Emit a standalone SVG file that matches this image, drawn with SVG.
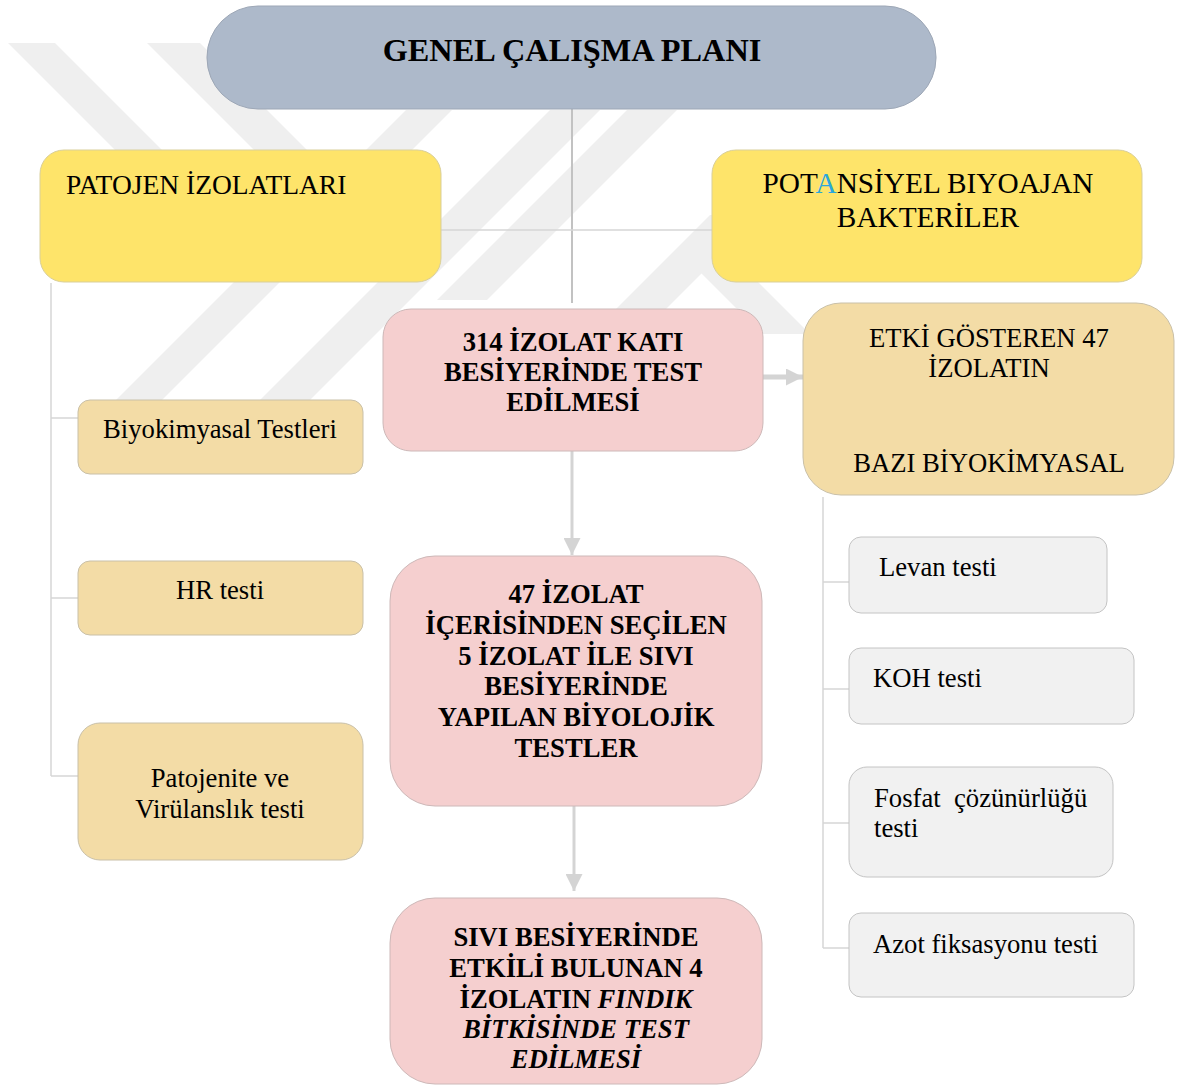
<svg xmlns="http://www.w3.org/2000/svg" width="1186" height="1085" viewBox="0 0 1186 1085">
  <style>
    .t { font-family: "Liberation Serif", "Times New Roman", serif; font-size: 26.67px; fill: #000; }
    .b { font-weight: bold; }
    .c { text-anchor: middle; }
    .pre { white-space: pre; }
    .wm { fill: #efefef; }
    .ln { stroke: #d6d6d6; stroke-width: 1.5; fill: none; }
    .ar { stroke: #d4d4d4; fill: none; }
    .yel { fill: #fee46a; stroke: #d9cf9a; stroke-width: 1; }
    .tan { fill: #f3dca6; stroke: #c9c0a8; stroke-width: 1; }
    .pnk { fill: #f5cfcf; stroke: #cdb8b8; stroke-width: 1; }
    .gry { fill: #f1f1f1; stroke: #c4c4c4; stroke-width: 1; }
  </style>
  <defs>
    <marker id="ah" viewBox="0 0 17 17" markerWidth="17" markerHeight="17" markerUnits="userSpaceOnUse" refX="17" refY="8.5" orient="auto">
      <path d="M0,0 L17,8.5 L0,17 z" fill="#d4d4d4"/>
    </marker>
  </defs>
  <rect width="1186" height="1085" fill="#ffffff"/>

  <g id="watermark">
    <polygon class="wm" points="8,43 55,43 162,150 115,150"/>
    <polygon class="wm" points="147,43 200,43 307,150 254,150"/>
    <polygon class="wm" points="116,400 162,400 452,110 406,110"/>
    <polygon class="wm" points="260,400 310,400 600,110 550,110"/>
    <polygon class="wm" points="437,300 487,300 677,110 627,110"/>
    <polygon class="wm" points="590,335 640,335 760,215 710,215"/>
    <polygon class="wm" points="690,262 738,262 810,334 762,334"/>
  </g>

  <g id="connectors">
    <line x1="572" y1="105" x2="572" y2="303" stroke="#c2c2c2" stroke-width="2"/>
    <line class="ln" x1="441" y1="230" x2="712" y2="230"/>
    <polyline class="ln" points="51,283 51,776"/>
    <line class="ln" x1="51" y1="418" x2="78" y2="418"/>
    <line class="ln" x1="51" y1="598" x2="78" y2="598"/>
    <line class="ln" x1="51" y1="776" x2="78" y2="776"/>
    <polyline class="ln" points="823,497 823,948"/>
    <line class="ln" x1="823" y1="582" x2="849" y2="582"/>
    <line class="ln" x1="823" y1="689" x2="849" y2="689"/>
    <line class="ln" x1="823" y1="823" x2="849" y2="823"/>
    <line class="ln" x1="823" y1="948" x2="849" y2="948"/>
    <line class="ar" x1="572" y1="451" x2="572" y2="555" stroke-width="3" marker-end="url(#ah)"/>
    <line class="ar" x1="574" y1="806" x2="574" y2="891" stroke-width="3" marker-end="url(#ah)"/>
    <line class="ar" x1="763" y1="377" x2="803" y2="377" stroke-width="5" marker-end="url(#ah)"/>
  </g>

  <g id="title">
    <rect x="207" y="6" width="729" height="103" rx="51" fill="#adb9ca" stroke="#9da7b6" stroke-width="1"/>
    <text class="t b c" x="572" y="61" style="font-size:32.3px">GENEL ÇALIŞMA PLANI</text>
  </g>

  <g id="patojen">
    <rect class="yel" x="40" y="150" width="401" height="132" rx="24"/>
    <text class="t" x="66" y="194" style="font-size:27.5px">PATOJEN İZOLATLARI</text>
  </g>

  <g id="potansiyel">
    <rect class="yel" x="712" y="150" width="430" height="132" rx="24"/>
    <text class="t c" x="928" y="193" style="font-size:29.3px">POT<tspan fill="#2aa7dc">A</tspan>NSİYEL BIYOAJAN</text>
    <text class="t c" x="928" y="227" style="font-size:29.3px">BAKTERİLER</text>
  </g>

  <g id="biyokimyasal">
    <rect class="tan" x="78" y="400" width="285" height="74" rx="12"/>
    <text class="t c" x="220" y="438">Biyokimyasal Testleri</text>
  </g>

  <g id="hr">
    <rect class="tan" x="78" y="561" width="285" height="74" rx="12"/>
    <text class="t c" x="220" y="599">HR testi</text>
  </g>

  <g id="patojenite">
    <rect class="tan" x="78" y="723" width="285" height="137" rx="22"/>
    <text class="t c" x="220" y="787">Patojenite ve</text>
    <text class="t c" x="220" y="818">Virülanslık testi</text>
  </g>

  <g id="kati">
    <rect class="pnk" x="383" y="309" width="380" height="142" rx="28"/>
    <text class="t b c" x="573" y="351">314 İZOLAT KATI</text>
    <text class="t b c" x="573" y="381">BESİYERİNDE TEST</text>
    <text class="t b c" x="573" y="411">EDİLMESİ</text>
  </g>

  <g id="sivi47">
    <rect class="pnk" x="390" y="556" width="372" height="250" rx="45"/>
    <text class="t b c" x="576" y="603">47 İZOLAT</text>
    <text class="t b c" x="576" y="634">İÇERİSİNDEN SEÇİLEN</text>
    <text class="t b c" x="576" y="665">5 İZOLAT İLE SIVI</text>
    <text class="t b c" x="576" y="695">BESİYERİNDE</text>
    <text class="t b c" x="576" y="726">YAPILAN BİYOLOJİK</text>
    <text class="t b c" x="576" y="757">TESTLER</text>
  </g>

  <g id="findik">
    <rect class="pnk" x="390" y="898" width="372" height="186" rx="45"/>
    <text class="t b c" x="576" y="946">SIVI BESİYERİNDE</text>
    <text class="t b c" x="576" y="977">ETKİLİ BULUNAN 4</text>
    <text class="t b c" x="576" y="1008">İZOLATIN <tspan font-style="italic">FINDIK</tspan></text>
    <text class="t b c" x="576" y="1038" font-style="italic">BİTKİSİNDE TEST</text>
    <text class="t b c" x="576" y="1068" font-style="italic">EDİLMESİ</text>
  </g>

  <g id="etki">
    <rect class="tan" x="803" y="303" width="371" height="192" rx="38"/>
    <text class="t c" x="989" y="347">ETKİ GÖSTEREN 47</text>
    <text class="t c" x="989" y="377">İZOLATIN</text>
    <text class="t c" x="989" y="472">BAZI BİYOKİMYASAL</text>
  </g>

  <g id="levan">
    <rect class="gry" x="849" y="537" width="258" height="76" rx="12"/>
    <text class="t" x="879" y="576">Levan testi</text>
  </g>

  <g id="koh">
    <rect class="gry" x="849" y="648" width="285" height="76" rx="12"/>
    <text class="t" x="873" y="687">KOH testi</text>
  </g>

  <g id="fosfat">
    <rect class="gry" x="849" y="767" width="264" height="110" rx="18"/>
    <text class="t pre" x="874" y="807">Fosfat  çözünürlüğü</text>
    <text class="t" x="874" y="837">testi</text>
  </g>

  <g id="azot">
    <rect class="gry" x="849" y="913" width="285" height="84" rx="12"/>
    <text class="t" x="873" y="953">Azot fiksasyonu testi</text>
  </g>
</svg>
